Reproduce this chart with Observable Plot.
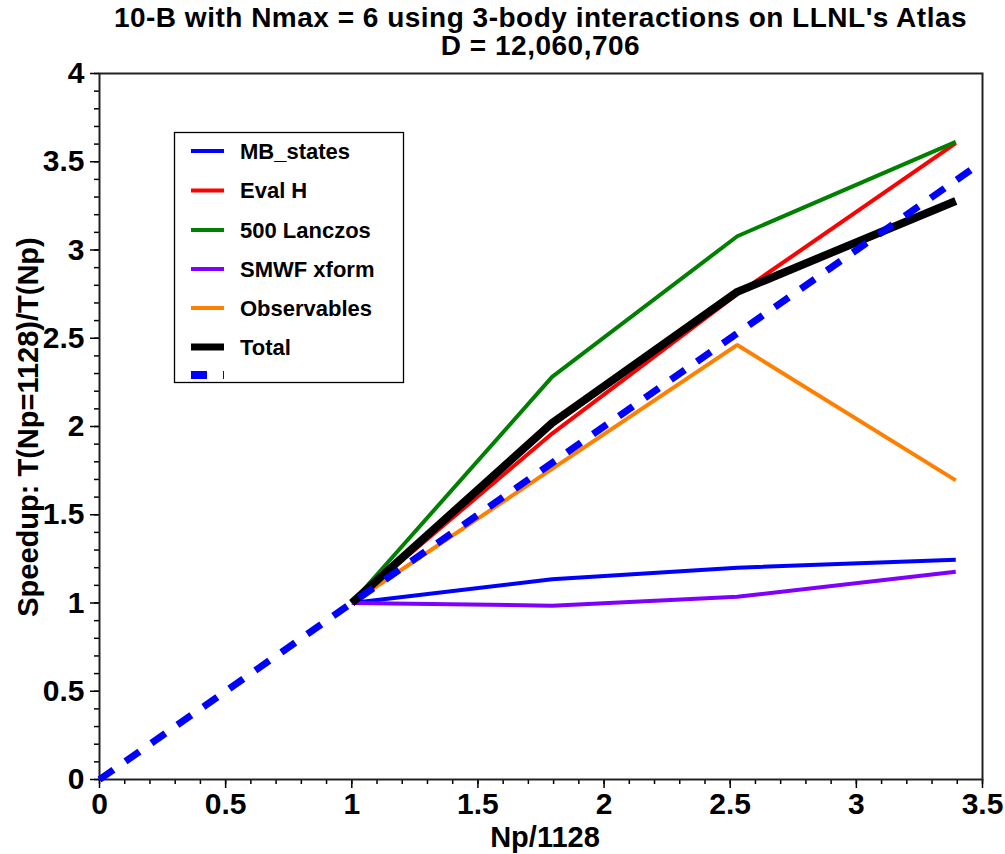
<!DOCTYPE html>
<html><head><meta charset="utf-8">
<script src="https://cdn.jsdelivr.net/npm/d3@7"></script>
<script src="https://cdn.jsdelivr.net/npm/@observablehq/plot@0.6"></script>
<style>
html,body{margin:0;padding:0;background:#fff;overflow:hidden}
#title{box-sizing:border-box;width:1005px;height:60px;padding:4px 0 0 76px;text-align:center;font:bold 28px/28px "Liberation Sans",Arial,sans-serif;letter-spacing:0.5px;color:#000;white-space:nowrap}
</style></head><body>
<div id="title">10-B with Nmax = 6 using 3-body interactions on LLNL's Atlas<br>D = 12,060,706</div>
<div id="chart"></div>
<script>
// ---- data ----
const npRatio      = [1, 1.794, 2.528, 3.394];
const mbStates     = [1, 1.135, 1.200, 1.245];
const evalH        = [1, 1.960, 2.750, 3.605];
const lanczos500   = [1, 2.281, 3.078, 3.613];
const smwfXform    = [1, 0.985, 1.035, 1.177];
const observables  = [1, 1.760, 2.462, 1.695];
const total        = [1, 2.020, 2.763, 3.278];
const idealX       = [0, 3.5];
const seriesNames  = ["MB_states", "Eval H", "500 Lanczos", "SMWF xform", "Observables", "Total"];
const seriesValues = [mbStates, evalH, lanczos500, smwfXform, observables, total];
const seriesColors = ["#0000ff", "#ff0000", "#008000", "#8000ff", "#ff8000", "#000000"];
const seriesWidths = [4, 4, 4, 4, 4, 8];
const xMajor = [0, 0.5, 1, 1.5, 2, 2.5, 3, 3.5];
const yMajor = [0, 0.5, 1, 1.5, 2, 2.5, 3, 3.5, 4];
const xMinor = d3.range(0, 36).map(i => i / 10);
const yMinor = d3.range(0, 41).map(i => i / 10);

const FONT = '"Liberation Sans", Arial, Helvetica, sans-serif';
const fmt = d => String(+d.toFixed(1));

const rows = [];
seriesNames.forEach((name, k) => {
  npRatio.forEach((x, i) => rows.push({series: name, x, y: seriesValues[k][i]}));
});
const ideal = idealX.map(x => ({x, y: x}));

const lineMarks = seriesNames.map((name, k) =>
  Plot.line(rows.filter(r => r.series === name), {
    x: "x", y: "y", stroke: seriesColors[k], strokeWidth: seriesWidths[k],
    strokeLinejoin: "miter", strokeLinecap: "butt"
  })
);

const chart = Plot.plot({
  width: 1005, height: 794,
  marginLeft: 99, marginRight: 23, marginTop: 13, marginBottom: 75,
  style: {fontFamily: FONT, background: "#fff", color: "#000", overflow: "visible"},
  x: {domain: [0, 3.5]},
  y: {domain: [0, 4]},
  marks: [
    Plot.axisY({ticks: yMinor, tickSize: 5, tickFormat: () => "", label: null, strokeWidth: 1.5}),
    Plot.axisY({ticks: yMajor, tickSize: 9, tickPadding: 6, tickFormat: fmt, label: null,
      fontSize: 30, fontWeight: "bold", strokeWidth: 1.5}),
    Plot.axisX({ticks: xMinor, tickSize: 5, tickFormat: () => "", label: null, strokeWidth: 1.5}),
    Plot.axisX({ticks: xMajor, tickSize: 9, tickPadding: 4, tickFormat: fmt, label: null,
      fontSize: 30, fontWeight: "bold", strokeWidth: 1.5}),
    Plot.frame({stroke: "#222", strokeWidth: 2}),
    ...lineMarks,
    Plot.line(ideal, {x: "x", y: "y", stroke: "#0000ff", strokeWidth: 7,
      strokeDasharray: "17,14.7", strokeLinecap: "butt"})
  ]
});
document.getElementById("chart").appendChild(chart);

// ---- axis titles and legend ----
const svg = d3.select(chart);
svg.append("text")
  .attr("transform", "translate(38,367) rotate(-90)")
  .attr("text-anchor", "middle")
  .attr("font-family", FONT).attr("font-weight", "bold").attr("font-size", 29)
  .attr("fill", "#000")
  .text("Speedup: T(Np=1128)/T(Np)");
svg.append("text")
  .attr("x", 545).attr("y", 787)
  .attr("text-anchor", "middle")
  .attr("font-family", FONT).attr("font-weight", "bold").attr("font-size", 29)
  .attr("fill", "#000")
  .text("Np/1128");

const lg = svg.append("g");
lg.append("rect").attr("x", 174.5).attr("y", 72.5).attr("width", 229).attr("height", 250)
  .attr("fill", "#fff").attr("stroke", "#000").attr("stroke-width", 1.3);
const rowY = [91, 130.5, 170, 209, 248, 287];
seriesNames.forEach((name, k) => {
  lg.append("line").attr("x1", 191).attr("x2", 224).attr("y1", rowY[k]).attr("y2", rowY[k])
    .attr("stroke", seriesColors[k]).attr("stroke-width", k === 5 ? 7 : 4);
  lg.append("text").attr("x", 240).attr("y", rowY[k]).attr("dy", "0.36em")
    .attr("text-anchor", "start")
    .attr("font-family", FONT).attr("font-weight", "bold").attr("font-size", 22)
    .attr("fill", "#000").text(name);
});
lg.append("line").attr("x1", 191).attr("x2", 224).attr("y1", 315).attr("y2", 315)
  .attr("stroke", "#0000ff").attr("stroke-width", 8).attr("stroke-dasharray", "16,16");
</script></body></html>
